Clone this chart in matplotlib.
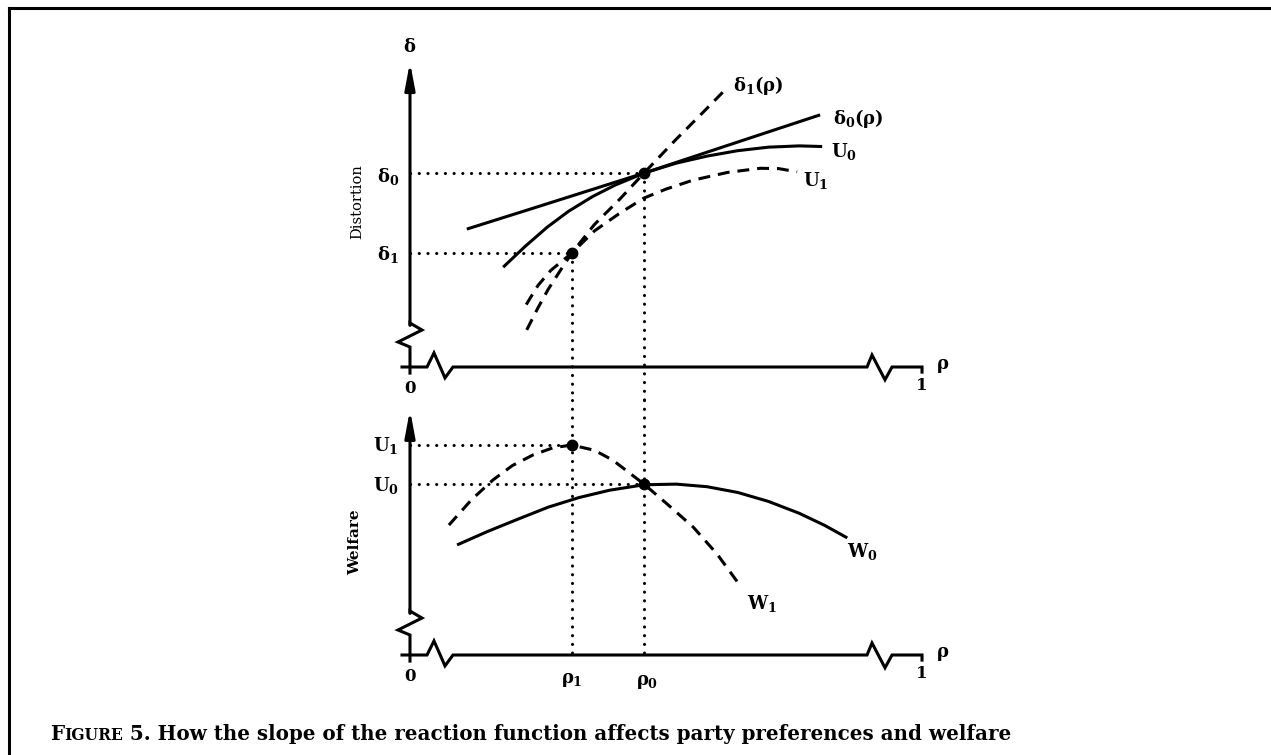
import matplotlib
matplotlib.use("Agg")
import matplotlib.pyplot as plt
from matplotlib.lines import Line2D

plt.rcParams['font.family'] = ['DejaVu Serif']
plt.rcParams['mathtext.fontset'] = 'custom'
plt.rcParams['mathtext.rm'] = 'DejaVu Serif:bold'
plt.rcParams['mathtext.it'] = 'DejaVu Serif:bold'
plt.rcParams['mathtext.bf'] = 'DejaVu Serif:bold'

# key values (rho on horizontal axis, 0..1)
rho1 = 0.316
rho0 = 0.457
delta0 = 0.606
delta1 = 0.356
u1 = 0.656
u0 = 0.534

# top panel: distortion curves
d0_rho = [0.111, 0.240, 0.457, 0.640, 0.801]
d0_val = [0.431, 0.496, 0.606, 0.703, 0.788]

U0_rho = [0.182, 0.225, 0.268, 0.310, 0.357, 0.400, 0.457, 0.520, 0.580, 0.640, 0.700, 0.760, 0.805]
U0_val = [0.312, 0.377, 0.437, 0.487, 0.533, 0.568, 0.606, 0.637, 0.659, 0.676, 0.687, 0.691, 0.689]

d1_rho = [0.228, 0.250, 0.270, 0.295, 0.316, 0.360, 0.410, 0.457, 0.520, 0.570, 0.619]
d1_val = [0.116, 0.185, 0.243, 0.305, 0.356, 0.445, 0.525, 0.606, 0.712, 0.792, 0.872]

U1_rho = [0.227, 0.250, 0.275, 0.316, 0.360, 0.410, 0.457, 0.500, 0.553, 0.620, 0.684, 0.720, 0.756]
U1_val = [0.195, 0.255, 0.302, 0.356, 0.425, 0.481, 0.528, 0.556, 0.584, 0.608, 0.621, 0.620, 0.610]

# bottom panel: welfare curves
W0_rho = [0.092, 0.150, 0.210, 0.270, 0.330, 0.390, 0.457, 0.520, 0.580, 0.640, 0.700, 0.760, 0.810, 0.854]
W0_val = [0.344, 0.385, 0.424, 0.462, 0.492, 0.515, 0.532, 0.534, 0.526, 0.508, 0.480, 0.443, 0.405, 0.366]

W1_rho = [0.076, 0.120, 0.162, 0.200, 0.240, 0.280, 0.316, 0.360, 0.396, 0.457, 0.500, 0.553, 0.600, 0.641]
W1_val = [0.406, 0.485, 0.547, 0.592, 0.625, 0.648, 0.656, 0.640, 0.609, 0.534, 0.475, 0.400, 0.315, 0.225]

LW = 2.2
DASH = (3.9, 2.6)
DOT = (0.05, 2.8)


def axis_frame(ax, top):
    # vertical axis with break mark and arrow
    ax.plot([0, 0, 0.0234, -0.0234, 0, 0], [0.135, 0.1375, 0.1156, 0.0781, 0.0625, -0.019],
            color='k', lw=LW, solid_joinstyle='miter', clip_on=False)
    ax.annotate('', xy=(0, top), xytext=(0, 0.13),
                arrowprops=dict(arrowstyle='-|>,head_length=1.6,head_width=0.3',
                                lw=LW, color='k', mutation_scale=10, shrinkA=0, shrinkB=0))
    # horizontal axis with two break marks
    ax.plot([-0.0156, 0.0332, 0.0469, 0.0684, 0.084, 0.8926, 0.9023, 0.9277, 0.9414, 1.0, 1.0],
            [0, 0, 0.044, -0.034, 0, 0, 0.0375, -0.04, 0, 0, -0.016],
            color='k', lw=LW, solid_joinstyle='miter', clip_on=False)
    ax.text(0, -0.068, '0', ha='center', va='center', fontsize=12, fontweight='bold')
    ax.text(1.0, -0.058, '1', ha='center', va='center', fontsize=12, fontweight='bold')
    ax.text(1.027, 0.004, r'$\rho$', ha='left', va='center', fontsize=13)


def dotted(ax, xs, ys):
    ax.plot(xs, ys, color='k', lw=LW, dashes=DOT, dash_capstyle='round', clip_on=False)


fig = plt.figure(figsize=(12.71, 7.55), dpi=100)

# ---- top panel ----
ax1 = fig.add_axes([300 / 1271, 1 - 400 / 755, 700 / 1271, 380 / 755])
ax1.set_xlim(-0.2148, 1.1523)
ax1.set_ylim(-0.1031, 1.0844)
ax1.axis('off')
axis_frame(ax1, 0.953)

dotted(ax1, [0, rho0], [delta0, delta0])
dotted(ax1, [0, rho1], [delta1, delta1])
dotted(ax1, [rho0, rho0], [delta0, -0.1031])
dotted(ax1, [rho1, rho1], [delta1, -0.1031])

ax1.plot(d0_rho, d0_val, color='k', lw=LW, solid_capstyle='butt')
ax1.plot(U0_rho, U0_val, color='k', lw=LW, solid_capstyle='butt')
ax1.plot(d1_rho, d1_val, color='k', lw=LW, dashes=DASH)
ax1.plot(U1_rho, U1_val, color='k', lw=LW, dashes=DASH)
ax1.plot([rho0, rho1], [delta0, delta1], 'o', color='k', ms=7.5)

ax1.text(0, 1.0, r'$\delta$', ha='center', va='center', fontsize=13)
ax1.text(-0.022, delta0 - 0.012, r'$\delta_0$', ha='right', va='center', fontsize=13)
ax1.text(-0.022, delta1 - 0.004, r'$\delta_1$', ha='right', va='center', fontsize=13)
ax1.text(-0.1035, 0.516, 'Distortion', rotation=90, ha='center', va='center', fontsize=10.5)
ax1.text(0.631, 0.881, r'$\delta_1(\rho)$', ha='left', va='center', fontsize=13)
ax1.text(0.826, 0.778, r'$\delta_0(\rho)$', ha='left', va='center', fontsize=13)
ax1.text(0.822, 0.672, r'$U_0$', ha='left', va='center', fontsize=13)
ax1.text(0.768, 0.584, r'$U_1$', ha='left', va='center', fontsize=13)

# ---- bottom panel ----
ax2 = fig.add_axes([300 / 1271, 1 - 715 / 755, 700 / 1271, 315 / 755])
ax2.set_xlim(-0.2148, 1.1523)
ax2.set_ylim(-0.1875, 0.7969)
ax2.axis('off')
axis_frame(ax2, 0.766)

dotted(ax2, [0, rho1], [u1, u1])
dotted(ax2, [0, rho0], [u0, u0])
dotted(ax2, [rho1, rho1], [0.7969, 0])
dotted(ax2, [rho0, rho0], [0.7969, 0])

ax2.plot(W0_rho, W0_val, color='k', lw=LW, solid_capstyle='butt')
ax2.plot(W1_rho, W1_val, color='k', lw=LW, dashes=DASH)
ax2.plot([rho1, rho0], [u1, u0], 'o', color='k', ms=7.5)

ax2.text(-0.022, u1, r'$U_1$', ha='right', va='center', fontsize=13)
ax2.text(-0.022, u0 - 0.004, r'$U_0$', ha='right', va='center', fontsize=13)
ax2.text(-0.107, 0.353, 'Welfare', rotation=90, ha='center', va='center',
         fontsize=11, fontweight='bold')
ax2.text(0.853, 0.322, r'$W_0$', ha='left', va='center', fontsize=13)
ax2.text(0.658, 0.162, r'$W_1$', ha='left', va='center', fontsize=13)
ax2.text(rho1, -0.078, r'$\rho_1$', ha='center', va='center', fontsize=13)
ax2.text(rho0 + 0.006, -0.084, r'$\rho_0$', ha='center', va='center', fontsize=13)

# frame lines of the scanned page
fig.add_artist(Line2D([9 / 1271, 1], [1 - 8 / 755, 1 - 8 / 755], color='k', lw=2.2))
fig.add_artist(Line2D([9 / 1271, 9 / 1271], [0, 1 - 8 / 755], color='k', lw=2.2))

# caption with small caps "Figure"
cap_y = 1 - 740 / 755
parts = [('F', 14.3), ('IGURE', 11.2), (' 5. How the slope of the reaction function affects '
                                        'party preferences and welfare', 14.3)]
renderer = fig.canvas.get_renderer()
x = 50 / 1271
for txt, size in parts:
    t = fig.text(x, cap_y, txt, ha='left', va='baseline', fontsize=size,
                 fontweight='bold', family='DejaVu Serif')
    bb = t.get_window_extent(renderer)
    x = fig.transFigure.inverted().transform((bb.x1, 0))[0]

fig.savefig('out.png', dpi=100)
